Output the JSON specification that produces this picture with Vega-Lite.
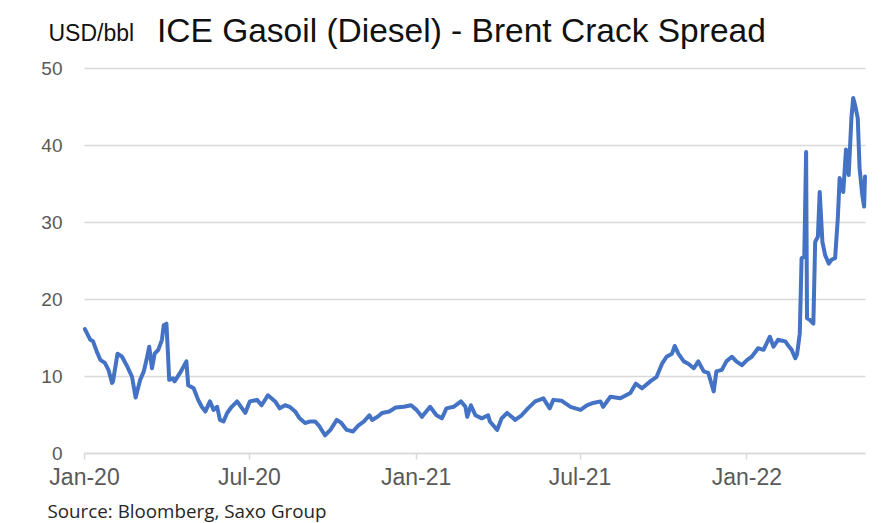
{
  "$schema": "https://vega.github.io/schema/vega-lite/v6.json",
  "width": 781,
  "height": 385,
  "autosize": {"type": "none"},
  "padding": {"left": 84, "top": 68, "right": 27, "bottom": 70},
  "background": "white",
  "title": {
    "text": "ICE Gasoil (Diesel) - Brent Crack Spread",
    "anchor": "start",
    "frame": "group",
    "dx": 73,
    "offset": -27,
    "font": "Liberation Sans",
    "fontSize": 33.5,
    "fontWeight": "normal",
    "color": "#111111"
  },
  "config": {
    "view": {"stroke": null}
  },
  "data": {
    "values": [
      {"date": "2020-01-02", "spread": 16.1},
      {"date": "2020-01-08", "spread": 14.7},
      {"date": "2020-01-11", "spread": 14.5},
      {"date": "2020-01-15", "spread": 13.2},
      {"date": "2020-01-19", "spread": 12.1},
      {"date": "2020-01-24", "spread": 11.7},
      {"date": "2020-01-28", "spread": 10.8},
      {"date": "2020-02-01", "spread": 9.1},
      {"date": "2020-02-02", "spread": 9.3},
      {"date": "2020-02-07", "spread": 12.9},
      {"date": "2020-02-12", "spread": 12.5},
      {"date": "2020-02-17", "spread": 11.4},
      {"date": "2020-02-23", "spread": 9.9},
      {"date": "2020-02-27", "spread": 7.2},
      {"date": "2020-03-03", "spread": 9.5},
      {"date": "2020-03-07", "spread": 10.6},
      {"date": "2020-03-10", "spread": 12.1},
      {"date": "2020-03-13", "spread": 13.8},
      {"date": "2020-03-16", "spread": 11.0},
      {"date": "2020-03-19", "spread": 12.9},
      {"date": "2020-03-23", "spread": 13.4},
      {"date": "2020-03-27", "spread": 14.7},
      {"date": "2020-03-29", "spread": 16.6},
      {"date": "2020-04-01", "spread": 16.8},
      {"date": "2020-04-03", "spread": 12.1},
      {"date": "2020-04-04", "spread": 9.5},
      {"date": "2020-04-08", "spread": 9.7},
      {"date": "2020-04-10", "spread": 9.3},
      {"date": "2020-04-16", "spread": 10.4},
      {"date": "2020-04-23", "spread": 11.9},
      {"date": "2020-04-25", "spread": 8.8},
      {"date": "2020-05-01", "spread": 8.4},
      {"date": "2020-05-06", "spread": 6.9},
      {"date": "2020-05-10", "spread": 6.0},
      {"date": "2020-05-14", "spread": 5.4},
      {"date": "2020-05-19", "spread": 6.7},
      {"date": "2020-05-23", "spread": 5.6},
      {"date": "2020-05-27", "spread": 6.0},
      {"date": "2020-05-30", "spread": 4.3},
      {"date": "2020-06-03", "spread": 4.1},
      {"date": "2020-06-07", "spread": 5.2},
      {"date": "2020-06-12", "spread": 6.0},
      {"date": "2020-06-18", "spread": 6.7},
      {"date": "2020-06-27", "spread": 5.2},
      {"date": "2020-07-02", "spread": 6.7},
      {"date": "2020-07-10", "spread": 6.9},
      {"date": "2020-07-15", "spread": 6.2},
      {"date": "2020-07-22", "spread": 7.5},
      {"date": "2020-07-30", "spread": 6.7},
      {"date": "2020-08-04", "spread": 5.8},
      {"date": "2020-08-10", "spread": 6.2},
      {"date": "2020-08-15", "spread": 6.0},
      {"date": "2020-08-21", "spread": 5.4},
      {"date": "2020-08-26", "spread": 4.5},
      {"date": "2020-09-01", "spread": 3.9},
      {"date": "2020-09-07", "spread": 4.1},
      {"date": "2020-09-12", "spread": 4.1},
      {"date": "2020-09-16", "spread": 3.6},
      {"date": "2020-09-23", "spread": 2.3},
      {"date": "2020-09-29", "spread": 3.0},
      {"date": "2020-10-06", "spread": 4.3},
      {"date": "2020-10-11", "spread": 3.9},
      {"date": "2020-10-17", "spread": 3.0},
      {"date": "2020-10-24", "spread": 2.8},
      {"date": "2020-10-30", "spread": 3.6},
      {"date": "2020-11-05", "spread": 4.1},
      {"date": "2020-11-11", "spread": 4.9},
      {"date": "2020-11-14", "spread": 4.3},
      {"date": "2020-11-20", "spread": 4.7},
      {"date": "2020-11-25", "spread": 5.2},
      {"date": "2020-12-03", "spread": 5.4},
      {"date": "2020-12-10", "spread": 5.9},
      {"date": "2020-12-19", "spread": 6.0},
      {"date": "2020-12-27", "spread": 6.2},
      {"date": "2021-01-02", "spread": 5.6},
      {"date": "2021-01-08", "spread": 4.7},
      {"date": "2021-01-17", "spread": 6.0},
      {"date": "2021-01-24", "spread": 4.9},
      {"date": "2021-01-30", "spread": 4.5},
      {"date": "2021-02-04", "spread": 5.8},
      {"date": "2021-02-12", "spread": 6.0},
      {"date": "2021-02-20", "spread": 6.7},
      {"date": "2021-02-25", "spread": 6.0},
      {"date": "2021-02-27", "spread": 4.7},
      {"date": "2021-03-03", "spread": 6.2},
      {"date": "2021-03-08", "spread": 4.9},
      {"date": "2021-03-15", "spread": 4.5},
      {"date": "2021-03-22", "spread": 4.9},
      {"date": "2021-03-24", "spread": 4.1},
      {"date": "2021-04-01", "spread": 3.0},
      {"date": "2021-04-06", "spread": 4.5},
      {"date": "2021-04-12", "spread": 5.2},
      {"date": "2021-04-21", "spread": 4.3},
      {"date": "2021-04-28", "spread": 4.9},
      {"date": "2021-05-05", "spread": 5.8},
      {"date": "2021-05-13", "spread": 6.7},
      {"date": "2021-05-22", "spread": 7.1},
      {"date": "2021-05-29", "spread": 5.8},
      {"date": "2021-06-02", "spread": 6.9},
      {"date": "2021-06-11", "spread": 6.8},
      {"date": "2021-06-21", "spread": 6.0},
      {"date": "2021-07-02", "spread": 5.6},
      {"date": "2021-07-09", "spread": 6.2},
      {"date": "2021-07-16", "spread": 6.5},
      {"date": "2021-07-24", "spread": 6.7},
      {"date": "2021-07-27", "spread": 6.0},
      {"date": "2021-08-04", "spread": 7.3},
      {"date": "2021-08-15", "spread": 7.1},
      {"date": "2021-08-26", "spread": 7.8},
      {"date": "2021-09-01", "spread": 9.0},
      {"date": "2021-09-08", "spread": 8.4},
      {"date": "2021-09-17", "spread": 9.3},
      {"date": "2021-09-24", "spread": 9.9},
      {"date": "2021-09-30", "spread": 11.6},
      {"date": "2021-10-05", "spread": 12.5},
      {"date": "2021-10-11", "spread": 12.9},
      {"date": "2021-10-14", "spread": 13.9},
      {"date": "2021-10-18", "spread": 12.9},
      {"date": "2021-10-24", "spread": 11.9},
      {"date": "2021-10-29", "spread": 11.6},
      {"date": "2021-11-04", "spread": 11.0},
      {"date": "2021-11-09", "spread": 11.9},
      {"date": "2021-11-15", "spread": 10.6},
      {"date": "2021-11-20", "spread": 10.4},
      {"date": "2021-11-26", "spread": 8.0},
      {"date": "2021-11-29", "spread": 10.6},
      {"date": "2021-12-05", "spread": 10.8},
      {"date": "2021-12-10", "spread": 11.9},
      {"date": "2021-12-16", "spread": 12.5},
      {"date": "2021-12-21", "spread": 11.9},
      {"date": "2021-12-27", "spread": 11.4},
      {"date": "2022-01-02", "spread": 12.1},
      {"date": "2022-01-07", "spread": 12.5},
      {"date": "2022-01-14", "spread": 13.6},
      {"date": "2022-01-20", "spread": 13.4},
      {"date": "2022-01-27", "spread": 15.1},
      {"date": "2022-01-31", "spread": 13.8},
      {"date": "2022-02-05", "spread": 14.7},
      {"date": "2022-02-13", "spread": 14.5},
      {"date": "2022-02-16", "spread": 14.0},
      {"date": "2022-02-20", "spread": 13.4},
      {"date": "2022-02-24", "spread": 12.3},
      {"date": "2022-02-26", "spread": 12.8},
      {"date": "2022-03-01", "spread": 15.5},
      {"date": "2022-03-03", "spread": 25.3},
      {"date": "2022-03-06", "spread": 25.5},
      {"date": "2022-03-08", "spread": 39.1},
      {"date": "2022-03-09", "spread": 17.5},
      {"date": "2022-03-12", "spread": 17.3},
      {"date": "2022-03-16", "spread": 16.8},
      {"date": "2022-03-18", "spread": 27.4},
      {"date": "2022-03-21", "spread": 28.1},
      {"date": "2022-03-23", "spread": 33.9},
      {"date": "2022-03-26", "spread": 27.4},
      {"date": "2022-03-29", "spread": 25.7},
      {"date": "2022-04-02", "spread": 24.6},
      {"date": "2022-04-05", "spread": 25.1},
      {"date": "2022-04-09", "spread": 25.3},
      {"date": "2022-04-12", "spread": 30.5},
      {"date": "2022-04-14", "spread": 35.7},
      {"date": "2022-04-18", "spread": 33.9},
      {"date": "2022-04-21", "spread": 39.4},
      {"date": "2022-04-24", "spread": 36.1},
      {"date": "2022-04-27", "spread": 43.5},
      {"date": "2022-04-29", "spread": 46.1},
      {"date": "2022-05-01", "spread": 45.2},
      {"date": "2022-05-04", "spread": 43.5},
      {"date": "2022-05-06", "spread": 37.0},
      {"date": "2022-05-09", "spread": 33.5},
      {"date": "2022-05-11", "spread": 32.0},
      {"date": "2022-05-12", "spread": 35.9}
    ]
  },
  "mark": {"type": "line", "color": "#4472C4", "strokeWidth": 4, "strokeJoin": "round", "strokeCap": "round"},
  "encoding": {
    "x": {
      "field": "date",
      "type": "temporal",
      "scale": {
        "type": "utc",
        "domain": [
          {"year": 2020, "month": 1, "date": 1, "utc": true},
          {"year": 2022, "month": 5, "date": 12, "utc": true}
        ],
        "nice": false
      },
      "axis": {
        "title": "Source: Bloomberg, Saxo Group",
        "titleX": -37,
        "titleY": 64,
        "titleAlign": "left",
        "titleBaseline": "alphabetic",
        "titleFont": "Open Sans",
        "titleFontSize": 18.8,
        "titleFontWeight": "normal",
        "titleColor": "#262626",
        "values": [
          {"year": 2020, "month": 1, "date": 1, "utc": true},
          {"year": 2020, "month": 7, "date": 1, "utc": true},
          {"year": 2021, "month": 1, "date": 1, "utc": true},
          {"year": 2021, "month": 7, "date": 1, "utc": true},
          {"year": 2022, "month": 1, "date": 1, "utc": true}
        ],
        "format": "%b-%y",
        "labelFont": "Liberation Sans",
        "labelFontSize": 23,
        "labelColor": "#595959",
        "labelPadding": 7,
        "labelFlush": false,
        "labelOverlap": false,
        "grid": false,
        "domain": true,
        "domainColor": "#d9d9d9",
        "domainWidth": 1.5,
        "ticks": true,
        "tickColor": "#d9d9d9",
        "tickWidth": 1.5,
        "tickSize": 6
      }
    },
    "y": {
      "field": "spread",
      "type": "quantitative",
      "scale": {"domain": [0, 50], "nice": false, "zero": true},
      "axis": {
        "title": "USD/bbl",
        "titleAngle": 0,
        "titleX": -36,
        "titleY": -28,
        "titleAlign": "left",
        "titleBaseline": "alphabetic",
        "titleFont": "Liberation Sans",
        "titleFontSize": 23,
        "titleFontWeight": "normal",
        "titleColor": "#111111",
        "values": [0, 10, 20, 30, 40, 50],
        "labelFont": "Liberation Sans",
        "labelFontSize": 19,
        "labelColor": "#595959",
        "labelPadding": 22,
        "domain": false,
        "ticks": false,
        "grid": true,
        "gridColor": "#d9d9d9",
        "gridWidth": 1.5
      }
    }
  }
}
